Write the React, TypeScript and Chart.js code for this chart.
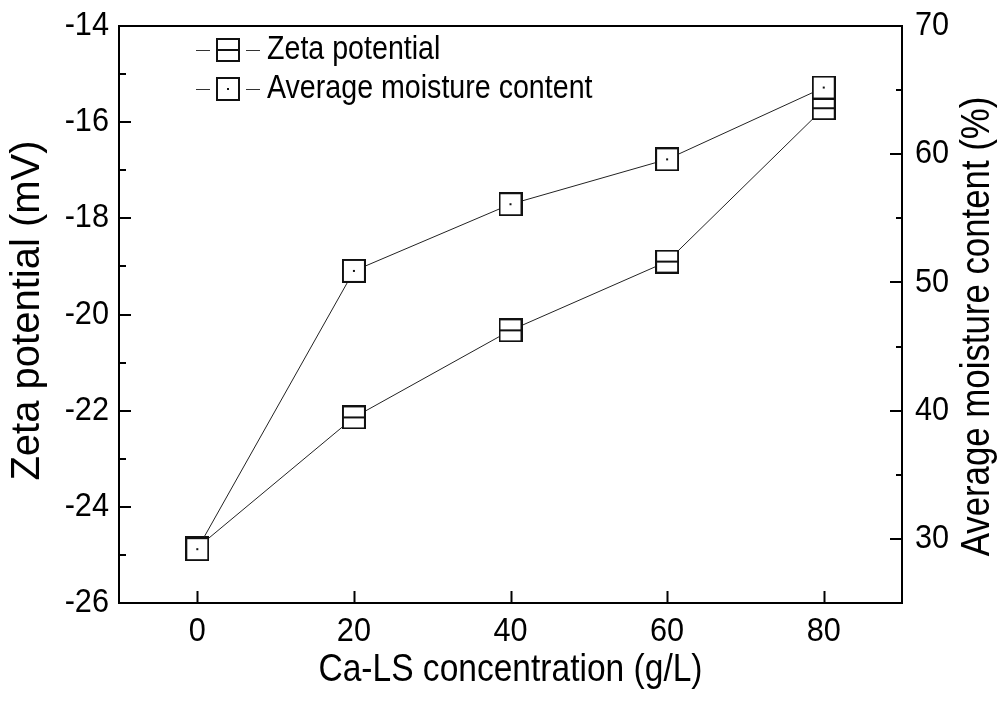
import { useEffect, useRef } from "react";
import { Chart, registerables } from "chart.js";

Chart.register(...registerables);

// Ca-LS concentration (g/L)
const concentrations = [0, 20, 40, 60, 80];
// Zeta potential (mV), left axis
const zetaPotential = [-24.85, -22.14, -20.33, -18.9, -15.71];
// Average moisture content (%), right axis
const moistureContent = [29.2, 50.9, 56.1, 59.6, 65.2];

const xTickValues = [0, 20, 40, 60, 80];
const zetaTickValues = [-26, -24, -22, -20, -18, -16, -14];
const zetaMinorTicks = [-25, -23, -21, -19, -17, -15];
const moistureTickValues = [30, 40, 50, 60, 70];
const moistureMinorTicks = [35, 45, 55, 65];

const legendLabels = ["Zeta potential", "Average moisture content"];
const xTitle = "Ca-LS concentration (g/L)";
const zetaTitle = "Zeta potential (mV)";
const moistureTitle = "Average moisture content (%)";

const FONT = '"Liberation Sans", Arial, sans-serif';

function makeMarker(kind: "bar" | "dot", size = 24): HTMLCanvasElement {
  const c = document.createElement("canvas");
  c.width = size;
  c.height = size;
  const ctx = c.getContext("2d")!;
  ctx.fillStyle = "#fff";
  ctx.fillRect(1, 1, size - 2, size - 2);
  ctx.strokeStyle = "#111";
  ctx.lineWidth = 2;
  ctx.strokeRect(1, 1, size - 2, size - 2);
  if (kind === "bar") {
    ctx.beginPath();
    ctx.moveTo(1, size / 2);
    ctx.lineTo(size - 1, size / 2);
    ctx.stroke();
  } else {
    ctx.fillStyle = "#111";
    ctx.fillRect(size / 2 - 1, size / 2 - 1, 2, 2);
  }
  return c;
}

// Draws condensed text (horizontal scale sx along the text direction).
function drawText(
  ctx: CanvasRenderingContext2D,
  text: string,
  x: number,
  y: number,
  size: number,
  sx: number,
  align: CanvasTextAlign,
  rotation = 0
) {
  ctx.save();
  ctx.translate(x, y);
  if (rotation) ctx.rotate(rotation);
  ctx.scale(sx, 1);
  ctx.font = `${size}px ${FONT}`;
  ctx.fillStyle = "#000";
  ctx.textAlign = align;
  ctx.textBaseline = "middle";
  ctx.fillText(text, 0, 0);
  ctx.restore();
}

export default function App() {
  const canvasRef = useRef<HTMLCanvasElement | null>(null);

  useEffect(() => {
    if (!canvasRef.current) return;
    const zetaMarker = makeMarker("bar");
    const moistureMarker = makeMarker("dot");

    const framePlugin = {
      id: "frameTicksLegend",
      afterDraw(chart: any) {
        const ctx: CanvasRenderingContext2D = chart.ctx;
        const { left, right, top, bottom } = chart.chartArea;
        const xs = chart.scales.x;
        const ys = chart.scales.y;
        const y1 = chart.scales.y1;
        const line = (x1: number, yA: number, x2: number, yB: number) => {
          ctx.beginPath();
          ctx.moveTo(x1, yA);
          ctx.lineTo(x2, yB);
          ctx.stroke();
        };
        ctx.save();
        ctx.strokeStyle = "#000";
        ctx.lineWidth = 2;
        // top edge of the frame
        line(left - 1, top, right + 1, top);
        // inward major and minor ticks
        xTickValues.forEach((v) => {
          const px = Math.round(xs.getPixelForValue(v)) + 0.5;
          line(px, bottom, px, bottom - 12);
        });
        zetaTickValues.forEach((v) => {
          const py = Math.round(ys.getPixelForValue(v));
          line(left, py, left + 12, py);
        });
        zetaMinorTicks.forEach((v) => {
          const py = Math.round(ys.getPixelForValue(v));
          line(left, py, left + 7, py);
        });
        moistureTickValues.forEach((v) => {
          const py = Math.round(y1.getPixelForValue(v));
          line(right, py, right - 12, py);
        });
        moistureMinorTicks.forEach((v) => {
          const py = Math.round(y1.getPixelForValue(v));
          line(right, py, right - 6, py);
        });

        // tick labels
        xTickValues.forEach((v) => {
          drawText(ctx, String(v), xs.getPixelForValue(v), 632, 33, 0.93, "center");
        });
        zetaTickValues.forEach((v) => {
          drawText(ctx, String(v), left - 10, ys.getPixelForValue(v), 33, 0.93, "right");
        });
        moistureTickValues.forEach((v) => {
          drawText(ctx, String(v), right + 13, y1.getPixelForValue(v), 33, 0.93, "left");
        });

        // axis titles
        const midY = (top + bottom) / 2;
        drawText(ctx, xTitle, (left + right) / 2, 670, 39, 0.86, "center");
        drawText(ctx, zetaTitle, 28, midY - 4, 40, 1.0, "center", -Math.PI / 2);
        drawText(ctx, moistureTitle, 978, midY + 12, 40, 0.87, "center", -Math.PI / 2);

        // legend
        const rows = [
          { label: legendLabels[0], marker: zetaMarker, y: 50 },
          { label: legendLabels[1], marker: moistureMarker, y: 89 },
        ];
        rows.forEach((r) => {
          ctx.strokeStyle = "#333";
          ctx.lineWidth = 1;
          line(196, r.y + 0.5, 210, r.y + 0.5);
          line(246, r.y + 0.5, 260, r.y + 0.5);
          ctx.drawImage(r.marker, 228 - r.marker.width / 2, r.y - r.marker.height / 2);
          drawText(ctx, r.label, 267, r.y, 33, 0.867, "left");
        });
        ctx.restore();
      },
    };

    const chart = new Chart(canvasRef.current, {
      type: "line",
      data: {
        datasets: [
          {
            label: legendLabels[1],
            data: concentrations.map((x, i) => ({ x, y: moistureContent[i] })),
            yAxisID: "y1",
            borderColor: "#222",
            borderWidth: 1,
            pointStyle: moistureMarker as any,
            pointRadius: 12,
            order: 0,
          },
          {
            label: legendLabels[0],
            data: concentrations.map((x, i) => ({ x, y: zetaPotential[i] })),
            yAxisID: "y",
            borderColor: "#222",
            borderWidth: 1,
            pointStyle: zetaMarker as any,
            pointRadius: 12,
            order: 1,
          },
        ],
      },
      options: {
        animation: false,
        responsive: true,
        maintainAspectRatio: false,
        layout: { padding: { top: 26, left: 0, right: 0, bottom: 0 } },
        plugins: {
          legend: { display: false },
          tooltip: { enabled: false },
        },
        scales: {
          x: {
            type: "linear",
            min: -10,
            max: 90,
            afterBuildTicks: (s: any) => {
              s.ticks = xTickValues.map((v) => ({ value: v }));
            },
            afterFit: (s: any) => {
              s.height = 104;
            },
            grid: { display: false, drawTicks: false },
            border: { display: true, color: "#000", width: 2 },
            ticks: { display: false },
          },
          y: {
            type: "linear",
            position: "left",
            min: -26,
            max: -14,
            afterBuildTicks: (s: any) => {
              s.ticks = zetaTickValues.map((v) => ({ value: v }));
            },
            afterFit: (s: any) => {
              s.width = 119;
            },
            grid: { display: false, drawTicks: false },
            border: { display: true, color: "#000", width: 2 },
            ticks: { display: false },
          },
          y1: {
            type: "linear",
            position: "right",
            min: 25,
            max: 70,
            afterBuildTicks: (s: any) => {
              s.ticks = moistureTickValues.map((v) => ({ value: v }));
            },
            afterFit: (s: any) => {
              s.width = 103;
            },
            grid: { display: false, drawTicks: false },
            border: { display: true, color: "#000", width: 2 },
            ticks: { display: false },
          },
        },
      },
      plugins: [framePlugin],
    });

    return () => chart.destroy();
  }, []);

  return (
    <div style={{ position: "fixed", left: 0, top: 0, width: 1005, height: 707, background: "#fff" }}>
      <canvas ref={canvasRef} />
    </div>
  );
}
